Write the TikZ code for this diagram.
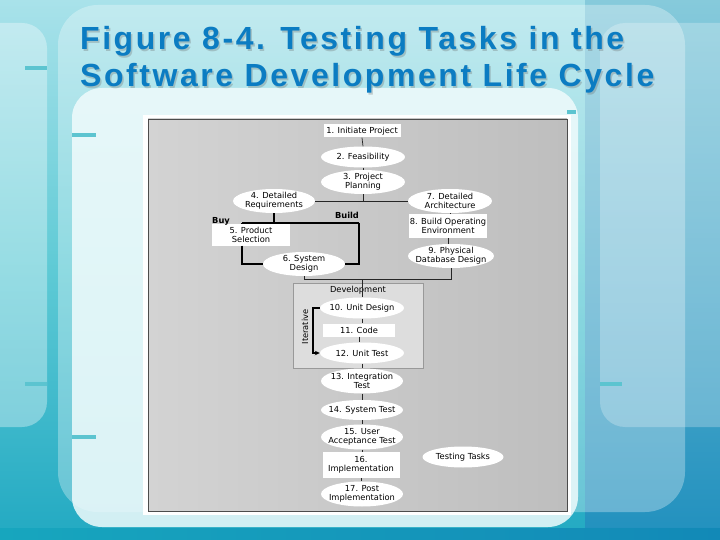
\documentclass[tikz,border=0pt]{standalone}
\usepackage{fontspec}
\setmainfont{DejaVu Sans}
\newfontfamily\titlefont[LetterSpace=8]{Liberation Sans}
\usetikzlibrary{shapes.geometric,arrows.meta}
\definecolor{bgtop}{HTML}{A9E2EA}
\definecolor{bgmid}{HTML}{5ECAD5}
\definecolor{bgbot}{HTML}{22A9C2}
\definecolor{rtop}{HTML}{86CADB}
\definecolor{rbot}{HTML}{2190BE}
\definecolor{band1}{HTML}{17A6BE}
\definecolor{band2}{HTML}{1289B7}
\definecolor{panel}{HTML}{F0FBFC}
\definecolor{tick}{HTML}{5CC4D0}
\definecolor{titleblue}{HTML}{0B7CC2}
\definecolor{grayL}{HTML}{D3D3D3}
\definecolor{grayR}{HTML}{BEBEBE}
\definecolor{devfill}{HTML}{DDDDDD}
\begin{document}
\begin{tikzpicture}[x=1pt,y=-1pt,
  ell/.style={ellipse,fill=white,inner xsep=-10pt,inner ysep=-4pt,align=center,
    font=\fontsize{8.3}{8.8}\selectfont},
  box/.style={rectangle,fill=white,inner sep=0pt,align=center,
    font=\fontsize{8.3}{8.8}\selectfont},
  link/.style={draw=black!85,line width=0.7pt},
  heavy/.style={draw=black,line width=1.4pt},
  lbl/.style={font=\fontsize{8.3}{9}\selectfont,inner sep=0pt},
  ttl/.style={font=\titlefont\bfseries\fontsize{32}{32}\selectfont,anchor=base west,inner sep=0pt}
]
\useasboundingbox (0,0) rectangle (720,540);
% ---------- slide background ----------
\shade[top color=bgtop, bottom color=bgbot, middle color=bgmid] (0,0) rectangle (720,540);
\shade[top color=rtop, bottom color=rbot] (585,0) rectangle (720,540);
\shade[left color=band1, right color=band2] (0,528) rectangle (720,540);
\fill[white,opacity=0.3,rounded corners=40pt] (58,5) rectangle (685,512);
\fill[white,opacity=0.35,rounded corners=25pt] (-30,23) rectangle (47,427);
\fill[white,opacity=0.25,rounded corners=25pt] (600,23) rectangle (760,427);
\fill[panel,opacity=0.85,rounded corners=30pt] (72,88) rectangle (578,527);
\fill[tick] (25,66) rectangle (47,70);
\fill[tick] (25,382) rectangle (47,386);
\fill[tick] (72,133) rectangle (96,137);
\fill[tick] (72,435) rectangle (96,439);
\fill[tick] (600,382) rectangle (622,386);
\fill[tick] (567,110) rectangle (576,114);
% ---------- title ----------
\node[ttl,text=black!60,opacity=0.3] at (81.5,51.5) {Figure 8-4. Testing Tasks in the};
\node[ttl,text=black!60,opacity=0.3] at (81.5,88.5) {Software Development Life Cycle};
\node[ttl,text=titleblue] (t1) at (80,50) {Figure 8-4. Testing Tasks in the};
\node[ttl,text=titleblue] (t2) at (80,87) {Software Development Life Cycle};
% ---------- diagram frame ----------
\fill[white] (143,115) rectangle (571,515);
\shade[left color=grayL, right color=grayR, draw=black!70, line width=0.9pt] (148,119) rectangle (567,511);
\filldraw[fill=devfill, draw=black!40, line width=0.6pt] (293,283) rectangle (423,368);
% ---------- nodes ----------
\node[box,minimum width=77pt,minimum height=13pt] (n1) at (362,131) {1. Initiate Project};
\node[ell,minimum width=84pt,minimum height=21pt] (n2) at (363,157) {2. Feasibility};
\node[ell,minimum width=84pt,minimum height=24pt] (n3) at (363,182) {3. Project\\Planning};
\node[ell,minimum width=82pt,minimum height=24pt] (n4) at (274,201) {4. Detailed\\Requirements};
\node[ell,minimum width=84pt,minimum height=24pt] (n7) at (450,201) {7. Detailed\\Architecture};
\node[box,minimum width=78pt,minimum height=21pt] (n5) at (251,235) {5. Product\\Selection};
\node[ell,minimum width=82pt,minimum height=24pt] (n6) at (304,264) {6. System\\Design};
\node[box,minimum width=78pt,minimum height=24pt] (n8) at (448,226) {8. Build Operating\\Environment};
\node[ell,minimum width=86pt,minimum height=24pt] (n9) at (451,256) {9. Physical\\Database Design};
\node[lbl] (dev) at (358,290) {Development};
\node[ell,minimum width=84pt,minimum height=21pt] (n10) at (362,308) {10. Unit Design};
\node[box,minimum width=72pt,minimum height=13pt] (n11) at (359,330) {11. Code};
\node[ell,minimum width=84pt,minimum height=21pt] (n12) at (362,353) {12. Unit Test};
\node[lbl,rotate=90] (itr) at (305,327) {Iterative};
\node[ell,minimum width=82pt,minimum height=25pt] (n13) at (362,381) {13. Integration\\Test};
\node[ell,minimum width=82pt,minimum height=20pt] (n14) at (362,410) {14. System Test};
\node[ell,minimum width=82pt,minimum height=25pt] (n15) at (362,437) {15. User\\Acceptance Test};
\node[box,minimum width=77pt,minimum height=26pt] (n16) at (361,465) {16.\\Implementation};
\node[ell,minimum width=82pt,minimum height=25pt] (n17) at (362,494) {17. Post\\Implementation};
\node[ell,minimum width=81pt,minimum height=21pt] (tt) at (463,457) {Testing Tasks};
\node[lbl,font=\fontsize{8.3}{9}\selectfont\bfseries] (buy) at (221,221) {Buy};
\node[lbl,font=\fontsize{8.3}{9}\selectfont\bfseries] (build) at (347,215) {Build};
% ---------- connectors ----------
\coordinate (bb) at (274,223);
\coordinate (buyc) at (242,223);
\coordinate (bldc) at (359,223);
\coordinate (j2) at (362,279);
\draw[link] (n1.south) -- (n2.north);
\draw[link] (n2.south) -- (n3.north);
\draw[link] (n3.south) -- (n3.south |- n4.east);
\draw[link] (n4.east) -- (n7.west);
\draw[link] (n7.south) -- (n7.south |- n8.north);
\draw[link] (n8.south) -- (n8.south |- n9.north);
\draw[heavy] (n4.south) -- (bb);
\draw[heavy] (buyc) -- (bldc);
\draw[heavy] (buyc) -- (buyc |- n5.north);
\draw[heavy] (buyc |- n5.south) -- (242,264) -- (n6.west);
\draw[heavy] (bldc) -- (359,264) -- (n6.east);
\draw[link] (n6.south) -- (n6.south |- j2) -- (j2 -| n9.south) -- (n9.south);
\draw[link] (j2) -- (n10.north);
\draw[link] (n10.south) -- (n10.south |- n11.north);
\draw[link] (n11.south) -- (n11.south |- n12.north);
\draw[heavy,line width=1.2pt,-{Stealth[length=5pt,width=4.5pt]}] (n10.west) -- (313,308) -- (313,353) -- (n12.west);
\draw[link] (n12.south) -- (n13.north);
\draw[link] (n13.south) -- (n14.north);
\draw[link] (n14.south) -- (n15.north);
\draw[link] (n15.south) -- (n15.south |- n16.north);
\draw[link] (n16.south) -- (n16.south |- n17.north);
\end{tikzpicture}
\end{document}
